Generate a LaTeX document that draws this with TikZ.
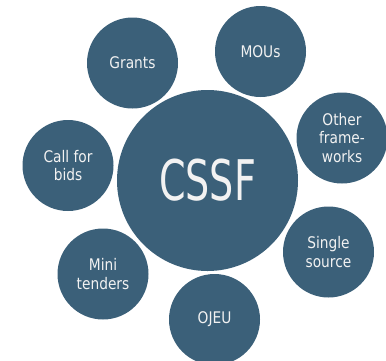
\documentclass[tikz,border=0pt]{standalone}
\usepackage{fontspec}
\setmainfont{DejaVu Sans}[FakeStretch=0.86]
\newfontfamily\cssffont{DejaVu Sans}[FakeStretch=0.68]
\usepackage{tikz}
\usetikzlibrary{positioning}

\definecolor{kreisblau}{HTML}{3B6079}
\definecolor{kreistext}{HTML}{F2F2F2}

\begin{document}
\begin{tikzpicture}[
            x=1pt, y=-1pt,
            kreis/.style={
                    circle,
                    fill=kreisblau,
                    minimum size=91pt,
                    inner sep=0pt,
                    align=center,
                    text=kreistext,
                    font=\fontsize{16}{18.5}\selectfont
                },
            grosskreis/.style={
                    kreis,
                    minimum size=181pt,
                    font=\cssffont\fontsize{56}{60}\selectfont
                }
        ]

        \clip (0,0) rectangle (386,360);
        \useasboundingbox (0,0) rectangle (386,360);

        \node[grosskreis] (cssf) at (207.5,180.5) {CSSF};

        \node[kreis] (grants) at (132.5,63) {Grants};
        \node[kreis] (mous) at (260.5,51.5) {MOUs};
        \node[kreis] (other) at (342,138) {Other\\frame-\\works};
        \node[kreis] (single) at (328.5,252) {Single\\source};
        \node[kreis] (ojeu) at (214.5,319.5) {OJEU};
        \node[kreis] (mini) at (103,274) {Mini\\tenders};
        \node[kreis] (call) at (68,165.5) {Call for\\bids};

    \end{tikzpicture}
\end{document}
